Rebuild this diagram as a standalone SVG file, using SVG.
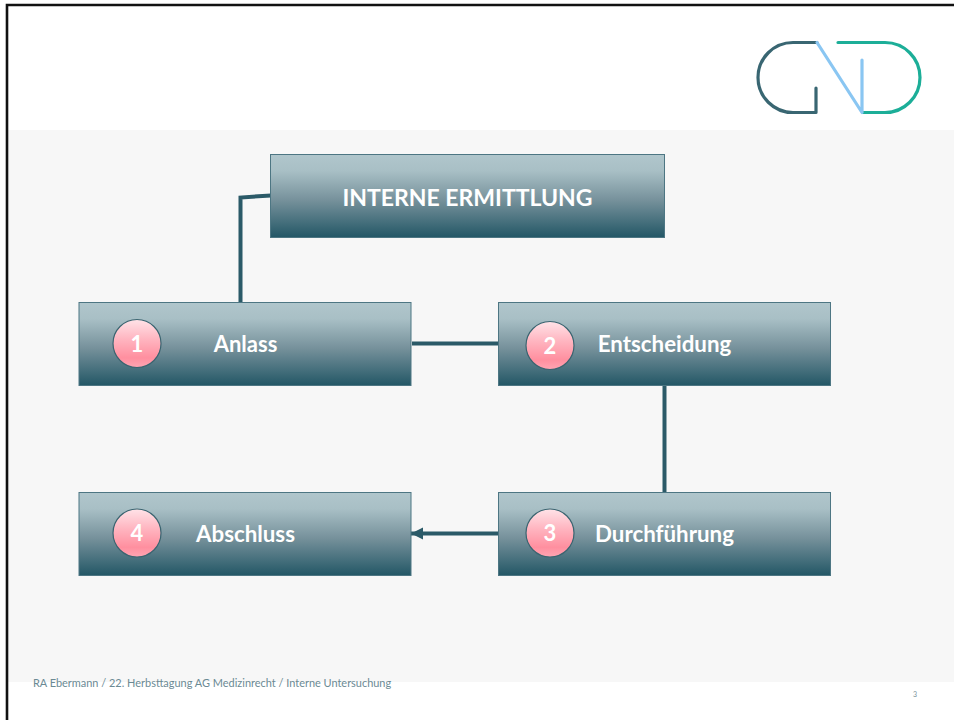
<svg xmlns="http://www.w3.org/2000/svg" width="954" height="720" viewBox="0 0 954 720">
<style>
.box{fill:url(#boxGrad);stroke:#4d7683;stroke-width:1}
.badge{fill:url(#badgeGrad);stroke:#3a6470;stroke-width:1.2}
.lbl{font-family:Lato,"Open Sans",sans-serif;font-weight:700;fill:#fff;text-anchor:middle}
.conn{fill:none;stroke:#2b5a68;stroke-width:4}
.logo{fill:none;stroke-width:3.2;stroke-linecap:round;stroke-linejoin:round}
</style>
<defs>
<linearGradient id="boxGrad" x1="0" y1="0" x2="0" y2="1">
<stop offset="0" stop-color="#b0c6cc"/><stop offset="0.2" stop-color="#a8bfc5"/><stop offset="0.55" stop-color="#76919b"/><stop offset="1" stop-color="#235766"/>
</linearGradient>
<linearGradient id="badgeGrad" x1="0" y1="0" x2="0" y2="1">
<stop offset="0" stop-color="#ffe3e8"/><stop offset="0.4" stop-color="#ffb6c1"/><stop offset="0.8" stop-color="#ff8f9f"/><stop offset="1" stop-color="#ffa5b3"/>
</linearGradient>
<marker id="arrow" markerUnits="userSpaceOnUse" markerWidth="13" markerHeight="13" refX="12" refY="6.5" orient="auto">
<path d="M0 0.5L12 6.5L0 12.5Z" fill="#2b5a68"/>
</marker>
</defs>
<rect width="954" height="720" fill="#fff"/>
<rect x="8" y="130" width="946" height="552" fill="#f7f7f7"/>
<path d="M7 720V5H954" fill="none" stroke="#111" stroke-width="2.600"/>
<g id="logo">
<path class="logo" stroke="#396672" d="M816 88V112.500H793A35 35 0 0 1 793 42.500H817"/>
<path class="logo" stroke="#1cae98" d="M838 42.500H885A35 35 0 0 1 885 112.500H863"/>
<path class="logo" stroke="#8ac6f2" d="M817 42.500L862 112.500V60"/>
</g>
<g id="connectors">
<path class="conn" d="M240.500 303V197.500L271 195.500"/>
<path class="conn" d="M412 343.500H499"/>
<path class="conn" d="M664.500 385V492"/>
<path class="conn" d="M499 533.500H411" marker-end="url(#arrow)"/>
</g>
<g id="node-title">
<rect class="box" x="270.500" y="154.500" width="394" height="83"/>
<text class="lbl" x="467.500" y="205.500" font-size="23">INTERNE ERMITTLUNG</text>
</g>
<g id="node-1">
<rect class="box" x="79" y="302.500" width="332" height="83"/>
<circle class="badge" cx="137" cy="343.500" r="24"/>
<text class="lbl" x="137" y="351.500" font-size="22">1</text>
<text class="lbl" x="245.500" y="352" font-size="22">Anlass</text>
</g>
<g id="node-2">
<rect class="box" x="498.500" y="302.500" width="332" height="83"/>
<circle class="badge" cx="550" cy="345.500" r="24"/>
<text class="lbl" x="550" y="353.500" font-size="22">2</text>
<text class="lbl" x="664.500" y="352" font-size="22.300">Entscheidung</text>
</g>
<g id="node-3">
<rect class="box" x="498.500" y="492.500" width="332" height="83"/>
<circle class="badge" cx="550" cy="533" r="24"/>
<text class="lbl" x="550" y="541" font-size="22">3</text>
<text class="lbl" x="664.500" y="542" font-size="22.300">Durchführung</text>
</g>
<g id="node-4">
<rect class="box" x="79" y="492.500" width="332" height="83"/>
<circle class="badge" cx="137" cy="533" r="24"/>
<text class="lbl" x="137" y="541" font-size="22">4</text>
<text class="lbl" x="245.500" y="542" font-size="22.300">Abschluss</text>
</g>
<text x="33" y="687" font-family="Lato,'Open Sans',sans-serif" font-size="10.950" fill="#6b8a94">RA Ebermann / 22. Herbsttagung AG Medizinrecht / Interne Untersuchung</text>
<text x="915" y="697" font-family="Lato,'Open Sans',sans-serif" font-size="7" fill="#7c939b" text-anchor="middle">3</text>
</svg>
